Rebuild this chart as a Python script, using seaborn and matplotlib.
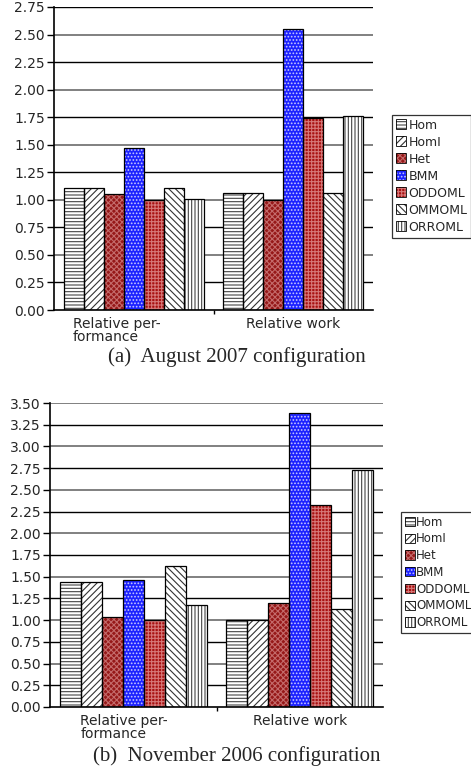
import numpy as np
import pandas as pd
import matplotlib
matplotlib.use("Agg")
import matplotlib.pyplot as plt
import matplotlib.transforms as mtransforms
from matplotlib.patches import Rectangle, Patch
import seaborn as sns

sns.set_style("white")
plt.rcParams["font.family"] = ["DejaVu Sans"]
plt.rcParams["hatch.linewidth"] = 0.8

# --- data -------------------------------------------------------------
schemes = ["Hom", "HomI", "Het", "BMM", "ODDOML", "OMMOML", "ORROML"]
metrics = ["Relative per-\nformance", "Relative work"]

aug2007_perf = [1.11, 1.11, 1.05, 1.47, 1.00, 1.11, 1.01]
aug2007_work = [1.06, 1.06, 1.00, 2.55, 1.74, 1.06, 1.76]

nov2006_perf = [1.44, 1.44, 1.04, 1.46, 1.00, 1.62, 1.18]
nov2006_work = [1.00, 1.00, 1.20, 3.38, 2.32, 1.13, 2.73]

legend_labels_a = ["Hom", "HomI", "Het", "BMM", "ODDOML", "OMMOML", "ORROML"]
legend_labels_b = ["Hom", "HomI", "Het", "BMM", "ODDOML", "OMMOML", "ORROML"]

yticks_a = [0.00, 0.25, 0.50, 0.75, 1.00, 1.25, 1.50, 1.75, 2.00, 2.25, 2.50, 2.75]
yticks_b = [0.00, 0.25, 0.50, 0.75, 1.00, 1.25, 1.50, 1.75, 2.00, 2.25, 2.50,
            2.75, 3.00, 3.25, 3.50]

caption_a = "(a)  August 2007 configuration"
caption_b = "(b)  November 2006 configuration"

# --- styles -----------------------------------------------------------
face = {"Hom": "white", "HomI": "white", "Het": "#961818", "BMM": "#1c22ff",
        "ODDOML": "#a81010", "OMMOML": "white", "ORROML": "white"}
hatch = {"Hom": "-----", "HomI": "/////", "Het": "xxxxxx", "BMM": ".....",
         "ODDOML": "+++++", "OMMOML": "\\\\\\\\\\", "ORROML": "|||||"}
hatch_col = {"Hom": "#444444", "HomI": "#333333", "Het": "#c46a6a",
             "BMM": "#c8c8ff", "ODDOML": "#d67878", "OMMOML": "#333333",
             "ORROML": "#444444"}


def make_frame(perf, work):
    rows = []
    for s, v in zip(schemes, perf):
        rows.append({"metric": metrics[0], "scheme": s, "value": v})
    for s, v in zip(schemes, work):
        rows.append({"metric": metrics[1], "scheme": s, "value": v})
    return pd.DataFrame(rows)


def draw_panel(fig, rect, perf, work, yticks, labels, legend_anchor,
               legend_size, first_label_dx, caption, caption_y):
    ax = fig.add_axes(rect)
    df = make_frame(perf, work)
    sns.barplot(data=df, x="metric", y="value", hue="scheme",
                hue_order=schemes, order=metrics, palette=face,
                width=0.88, saturation=1, legend=False, ax=ax, zorder=3)

    for s, cont in zip(schemes, ax.containers):
        for bar in cont:
            bar.set_facecolor(face[s])
            bar.set_hatch(hatch[s])
            bar.set_edgecolor(hatch_col[s])
            bar.set_linewidth(0)
            outline = Rectangle(bar.get_xy(), bar.get_width(), bar.get_height(),
                                fill=False, edgecolor="black", linewidth=0.9,
                                zorder=4)
            ax.add_patch(outline)

    ax.set_xlim(-0.5, 1.5)
    ax.set_ylim(yticks[0], yticks[-1])
    ax.set_yticks(yticks)
    ax.set_yticklabels([f"{t:.2f}" for t in yticks], fontsize=10)
    ax.tick_params(axis="y", which="major", length=5, width=1, pad=1.5,
                   left=True, color="black")

    # horizontal grid behind the bars, alternating grey / black
    for t in yticks[1:]:
        is_half = abs((t * 2) - round(t * 2)) < 1e-9
        ax.axhline(t, color="#808080" if is_half else "black",
                   lw=1.4 if is_half else 1.0, zorder=1)

    ax.set_xticks([0, 1])
    ax.set_xticklabels(metrics, fontsize=10)
    ax.tick_params(axis="x", which="major", length=0, pad=5)
    ax.set_xticks([0.5], minor=True)
    ax.tick_params(axis="x", which="minor", length=3, width=1, color="black",
                   bottom=True)
    lab0 = ax.get_xticklabels()[0]
    lab0.set_horizontalalignment("left")
    lab0.set_multialignment("left")
    lab0.set_linespacing(0.95)
    lab0.set_transform(lab0.get_transform() +
                       mtransforms.ScaledTranslation(first_label_dx / 100, 0,
                                                     fig.dpi_scale_trans))

    ax.set_xlabel("")
    ax.set_ylabel("")
    for side in ["top", "right"]:
        ax.spines[side].set_visible(False)
    for side in ["left", "bottom"]:
        ax.spines[side].set_color("black")
        ax.spines[side].set_linewidth(1.2)
        ax.spines[side].set_zorder(5)

    handles = []
    for s in schemes:
        handles.append((Patch(facecolor=face[s], hatch=hatch[s],
                              edgecolor=hatch_col[s], linewidth=0),
                        Patch(fill=False, edgecolor="black", linewidth=0.6)))
    leg = ax.legend(handles, labels, loc="upper left",
                    bbox_to_anchor=legend_anchor,
                    bbox_transform=fig.transFigure, borderaxespad=0,
                    fontsize=legend_size, frameon=True, fancybox=False,
                    edgecolor="black", handlelength=0.85, handleheight=0.85,
                    handletextpad=0.15, labelspacing=0.32, borderpad=0.3)
    leg.get_frame().set_linewidth(0.9)

    fig.text(237 / 471, caption_y, caption, ha="center", va="center",
             family="Liberation Serif", fontsize=15)
    return ax


fig = plt.figure(figsize=(4.71, 7.74), dpi=100)
W, H = 471, 774

draw_panel(fig, [54 / W, 1 - 310 / H, 319 / W, 303 / H],
           aug2007_perf, aug2007_work, yticks_a, legend_labels_a,
           (392 / W, 1 - 115 / H), 9, -61, caption_a, 1 - 357 / H)

draw_panel(fig, [50 / W, 1 - 707 / H, 333 / W, 304 / H],
           nov2006_perf, nov2006_work, yticks_b, legend_labels_b,
           (401 / W, 1 - 512 / H), 8.5, -53, caption_b, 1 - 756 / H)

fig.savefig("out.png", dpi=100, facecolor="white")
